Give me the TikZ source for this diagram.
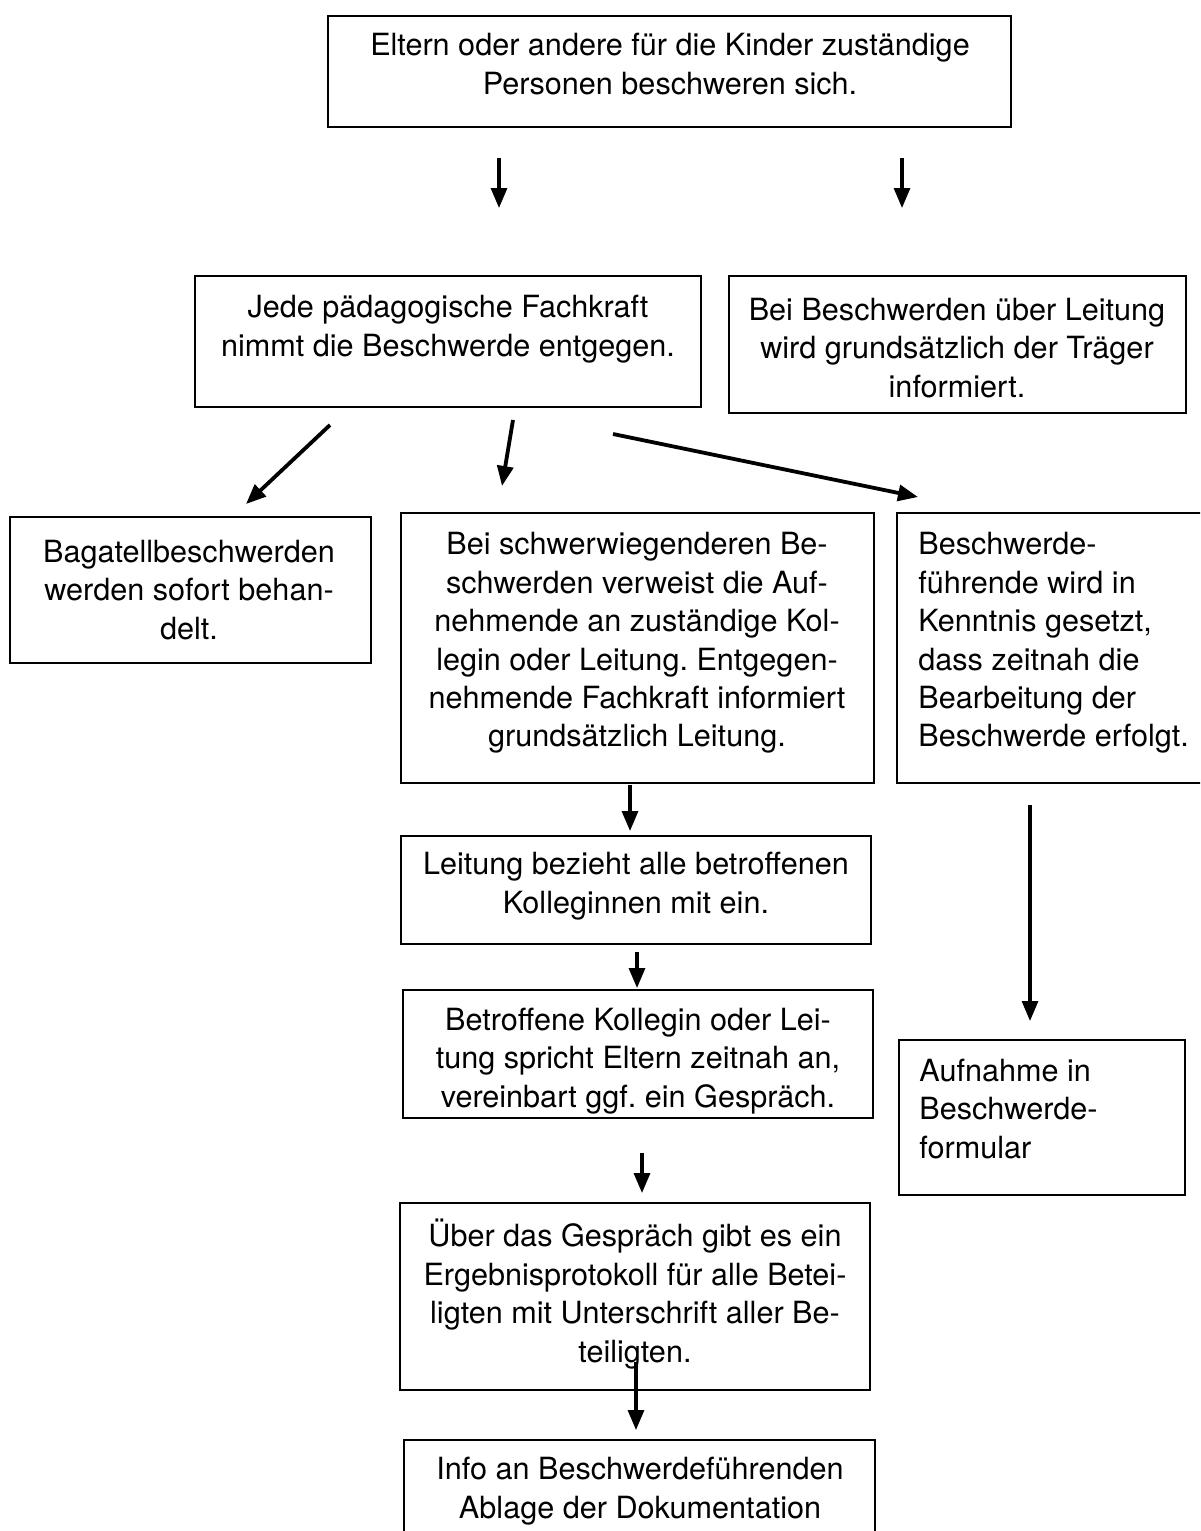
\documentclass[tikz,border=0pt]{standalone}
\usepackage{fontspec}
\setmainfont{TeX Gyre Heros}
\usetikzlibrary{arrows.meta,fit}
\frenchspacing
\begin{document}
\begin{tikzpicture}[x=0.5pt,y=-0.5pt,
  box/.style={draw=black, line width=1pt, inner sep=0pt},
  txt/.style={font=\fontsize{15.3}{19.2}\selectfont, align=center, inner sep=0pt},
  ltxt/.style={txt, align=left, anchor=west},
  arr/.style={line width=1.6pt, -{Triangle[width=8pt,length=10pt]}},
  darr/.style={arr, line width=1.9pt},
]
\useasboundingbox (0,0) rectangle (1200,1531);
\clip (0,0) rectangle (1200,1531);
\fill[white] (0,0) rectangle (1200,1531);

% boxes
\node[box, fit={(328,16) (1011,127)}] (b1) {};
\node[box, fit={(195,276) (701,407)}] (b2) {};
\node[box, fit={(729,276) (1186,413)}] (b3) {};
\node[box, fit={(10,517) (371,663)}] (b4) {};
\node[box, fit={(401,513) (874,783)}] (b5) {};
\node[box, fit={(897,513) (1206,783)}] (b6) {};
\node[box, fit={(401,836) (871,944)}] (b7) {};
\node[box, fit={(403,990) (873,1118)}] (b8) {};
\node[box, fit={(400,1203) (870,1390)}] (b9) {};
\node[box, fit={(404,1440) (875,1570)}] (b10) {};
\node[box, fit={(899,1040) (1185,1195)}] (b11) {};

% texts
\node[txt] (t1) at (670,64) {Eltern oder andere für die Kinder zuständige\\Personen beschweren sich.};
\node[txt] (t2) at (448,329) {Jede pädagogische Fachkraft\\nimmt die Beschwerde entgegen.};
\node[txt] (t3) at (957,348) {Bei Beschwerden über Leitung\\wird grundsätzlich der Träger\\informiert.};
\node[txt] (t4) at (189,590) {Bagatellbeschwerden\\werden sofort behan-\\delt.};
\node[txt] (t5) at (637,643) {Bei schwerwiegenderen Be-\\schwerden verweist die Auf-\\nehmende an zuständige Kol-\\legin oder Leitung. Entgegen-\\nehmende Fachkraft informiert\\grundsätzlich Leitung.};
\node[ltxt] (t6) at (918,643) {Beschwerde-\\führende wird in\\Kenntnis gesetzt,\\dass zeitnah die\\Bearbeitung der\\Beschwerde erfolgt.};
\node[txt] (t7) at (636,886) {Leitung bezieht alle betroffenen\\Kolleginnen mit ein.};
\node[txt] (t8) at (638,1061) {Betroffene Kollegin oder Lei-\\tung spricht Eltern zeitnah an,\\vereinbart ggf. ein Gespräch.};
\node[txt] (t9) at (635,1294) {Über das Gespräch gibt es ein\\Ergebnisprotokoll für alle Betei-\\ligten mit Unterschrift aller Be-\\teiligten.};
\node[txt] (t10) at (640,1491) {Info an Beschwerdeführenden\\Ablage der Dokumentation};
\node[ltxt] (t11) at (919,1109) {Aufnahme in\\Beschwerde-\\formular};

% arrows
\coordinate (a1s) at (499,158); \coordinate (a1e) at (499,208);
\coordinate (a2s) at (902,158); \coordinate (a2e) at (902,208);
\coordinate (a3s) at (330,425); \coordinate (a3e) at (246,504);
\coordinate (a4s) at (513,420); \coordinate (a4e) at (502,486);
\coordinate (a5s) at (613,434); \coordinate (a5e) at (918,497);
\coordinate (a6s) at (630,785); \coordinate (a6e) at (630,831);
\coordinate (a7s) at (637,952); \coordinate (a7e) at (637,988);
\coordinate (a8s) at (642,1153); \coordinate (a8e) at (642,1193);
\coordinate (a9s) at (636,1362); \coordinate (a9e) at (636,1430);
\coordinate (a10s) at (1030,805); \coordinate (a10e) at (1030,1021);
\foreach \i in {1,2,6,7,8,9,10} { \draw[arr] (a\i s) -- (a\i e); }
\foreach \i in {3,4,5} { \draw[darr] (a\i s) -- (a\i e); }
\end{tikzpicture}
\end{document}
